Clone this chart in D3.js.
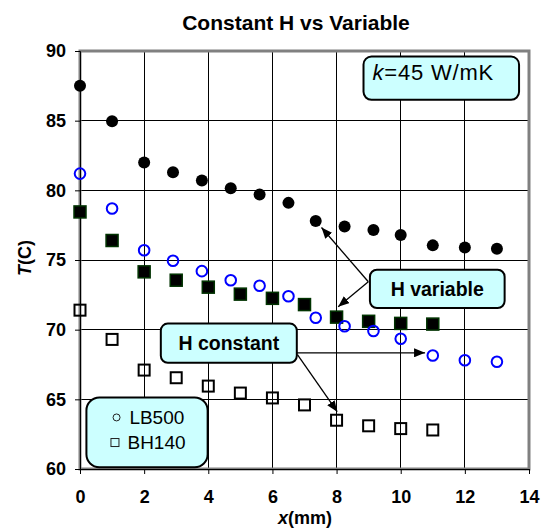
<!DOCTYPE html>
<html>
<head>
<meta charset="utf-8">
<script src="https://cdn.jsdelivr.net/npm/d3@7"></script>
<style>
body { margin: 0; background: #fff; }
text { font-family: Arial, "Liberation Sans", sans-serif; }
</style>
</head>
<body>
<div id="chart-area"></div>
<script>
// Data
const circleX = [0, 1, 2, 2.9, 3.8, 4.7, 5.6, 6.5, 7.35, 8.25, 9.15, 10, 11, 12, 13]
const squareX = [0, 1, 2, 3, 4, 5, 6, 7, 8, 9, 10, 11]
const lb500Variable = [87.5, 84.95, 82.0, 81.3, 80.7, 80.15, 79.7, 79.1, 77.8, 77.4, 77.15, 76.8, 76.05, 75.9, 75.8]
const lb500Constant = [81.2, 78.7, 75.7, 74.95, 74.2, 73.55, 73.15, 72.4, 70.85, 70.25, 69.9, 69.35, 68.15, 67.8, 67.7]
const bh140Variable = [78.45, 76.4, 74.15, 73.55, 73.05, 72.55, 72.25, 71.8, 70.9, 70.6, 70.45, 70.4]
const bh140Constant = [71.4, 69.3, 67.1, 66.55, 65.95, 65.45, 65.1, 64.6, 63.5, 63.1, 62.9, 62.8]
const xTicks = [0, 2, 4, 6, 8, 10, 12, 14]
const yTicks = [60, 65, 70, 75, 80, 85, 90]
const legendLabels = ["LB500", "BH140"]

const MARGIN = { LEFT: 80, RIGHT: 19, TOP: 51, BOTTOM: 61 }
const WIDTH = 548 - MARGIN.LEFT - MARGIN.RIGHT
const HEIGHT = 530 - MARGIN.TOP - MARGIN.BOTTOM

const svg = d3.select("#chart-area").append("svg")
    .attr("width", 548)
    .attr("height", 530)

const g = svg.append("g")
    .attr("transform", `translate(${MARGIN.LEFT}, ${MARGIN.TOP})`)

// Scales
const x = d3.scaleLinear()
    .range([0, WIDTH])
    .domain([0, 14])

const y = d3.scaleLinear()
    .range([HEIGHT, 0])
    .domain([60, 90])

// arrow head
svg.append("defs").append("marker")
    .attr("id", "head")
    .attr("markerUnits", "userSpaceOnUse")
    .attr("markerWidth", 11)
    .attr("markerHeight", 9)
    .attr("refX", 11)
    .attr("refY", 4.5)
    .attr("orient", "auto")
    .append("path")
    .attr("d", "M0,0 L11,4.5 L0,9 Z")
    .attr("fill", "black")

// Title
svg.append("text")
    .attr("x", 296)
    .attr("y", 30)
    .attr("text-anchor", "middle")
    .attr("font-size", "21px")
    .attr("font-weight", "bold")
    .text("Constant H vs Variable")

// Grid
g.selectAll(".xgrid")
    .data(xTicks.slice(1, -1))
    .enter().append("line")
    .attr("class", "xgrid")
    .attr("x1", d => x(d)).attr("x2", d => x(d))
    .attr("y1", 0).attr("y2", HEIGHT)
    .attr("stroke", "black")
    .attr("stroke-width", 1)
    .attr("shape-rendering", "crispEdges")

g.selectAll(".ygrid")
    .data(yTicks.slice(1, -1))
    .enter().append("line")
    .attr("class", "ygrid")
    .attr("x1", 0).attr("x2", WIDTH)
    .attr("y1", d => y(d)).attr("y2", d => y(d))
    .attr("stroke", "black")
    .attr("stroke-width", 1)
    .attr("shape-rendering", "crispEdges")

// Plot border
g.append("rect")
    .attr("x", 0).attr("y", 0)
    .attr("width", WIDTH).attr("height", HEIGHT)
    .attr("fill", "none")
    .attr("stroke", "#808080")
    .attr("stroke-width", 3)

// X Axis
const xAxisCall = d3.axisBottom(x)
    .tickValues(xTicks)
    .tickSize(5)
    .tickPadding(16)
const xAxis = g.append("g")
    .attr("class", "x axis")
    .attr("transform", `translate(0, ${HEIGHT})`)
    .call(xAxisCall)
xAxis.select(".domain").attr("stroke", "black")
xAxis.selectAll("text")
    .attr("font-size", "18px")
    .attr("font-weight", "bold")
    .attr("font-family", "Arial, 'Liberation Sans', sans-serif")
    .attr("fill", "black")

// Y Axis
const yAxisCall = d3.axisLeft(y)
    .tickValues(yTicks)
    .tickSize(5)
    .tickPadding(9)
const yAxis = g.append("g")
    .attr("class", "y axis")
    .call(yAxisCall)
yAxis.select(".domain").attr("stroke", "black")
yAxis.selectAll("text")
    .attr("font-size", "18px")
    .attr("font-weight", "bold")
    .attr("font-family", "Arial, 'Liberation Sans', sans-serif")
    .attr("fill", "black")

// Axis labels
const xLabel = svg.append("text")
    .attr("x", 305)
    .attr("y", 524)
    .attr("text-anchor", "middle")
    .attr("font-size", "18px")
    .attr("font-weight", "bold")
xLabel.append("tspan").attr("font-style", "italic").text("x")
xLabel.append("tspan").text("(mm)")

const yLabel = svg.append("text")
    .attr("transform", "translate(31, 258) rotate(-90)")
    .attr("text-anchor", "middle")
    .attr("font-size", "18px")
    .attr("font-weight", "bold")
yLabel.append("tspan").attr("font-style", "italic").text("T")
yLabel.append("tspan").text("(C)")

// Points
const circVar = circleX.map((d, i) => ({ x: d, y: lb500Variable[i] }))
const circCon = circleX.map((d, i) => ({ x: d, y: lb500Constant[i] }))
const sqVar = squareX.map((d, i) => ({ x: d, y: bh140Variable[i] }))
const sqCon = squareX.map((d, i) => ({ x: d, y: bh140Constant[i] }))

g.selectAll(".sqcon")
    .data(sqCon)
    .enter().append("rect")
    .attr("class", "sqcon")
    .attr("x", d => x(d.x) - 5.5)
    .attr("y", d => y(d.y) - 5.5)
    .attr("width", 11).attr("height", 11)
    .attr("fill", "none")
    .attr("stroke", "black")
    .attr("stroke-width", 2)

g.selectAll(".sqvar")
    .data(sqVar)
    .enter().append("rect")
    .attr("class", "sqvar")
    .attr("x", d => x(d.x) - 6)
    .attr("y", d => y(d.y) - 6)
    .attr("width", 12).attr("height", 12)
    .attr("fill", "black")
    .attr("stroke", "#003300")
    .attr("stroke-width", 1.5)

g.selectAll(".circcon")
    .data(circCon)
    .enter().append("circle")
    .attr("class", "circcon")
    .attr("cx", d => x(d.x))
    .attr("cy", d => y(d.y))
    .attr("r", 5.3)
    .attr("fill", "none")
    .attr("stroke", "#0000FF")
    .attr("stroke-width", 2)

g.selectAll(".circvar")
    .data(circVar)
    .enter().append("circle")
    .attr("class", "circvar")
    .attr("cx", d => x(d.x))
    .attr("cy", d => y(d.y))
    .attr("r", 6)
    .attr("fill", "black")

// Annotation boxes (in data units)
function box(x0, x1, y0, y1, r) {
    return g.append("rect")
        .attr("x", x(x0)).attr("y", y(y0))
        .attr("width", x(x1) - x(x0))
        .attr("height", y(y1) - y(y0))
        .attr("rx", r).attr("ry", r)
        .attr("fill", "#CCFFFF")
        .attr("stroke", "black")
        .attr("stroke-width", 2)
}

function arrow(x0, y0, x1, y1) {
    g.append("line")
        .attr("x1", x(x0)).attr("y1", y(y0))
        .attr("x2", x(x1)).attr("y2", y(y1))
        .attr("stroke", "black")
        .attr("stroke-width", 1.3)
        .attr("marker-end", "url(#head)")
}

// k box
box(8.84, 13.69, 89.6, 86.5, 8)
const kText = g.append("text")
    .attr("x", x(9.12))
    .attr("y", y(87.9))
    .attr("font-size", "22px")
    .attr("letter-spacing", "0.8px")
kText.append("tspan").attr("font-style", "italic").text("k")
kText.append("tspan").text("=45 W/mK")

// H variable
arrow(8.99, 73.44, 7.53, 77.33)
arrow(8.99, 73.44, 8.05, 71.65)
box(9.04, 13.24, 74.3, 71.55, 7)
g.append("text")
    .attr("x", x(11.14))
    .attr("y", y(72.92))
    .attr("dy", "0.35em")
    .attr("text-anchor", "middle")
    .attr("font-size", "19.5px")
    .attr("font-weight", "bold")
    .text("H variable")

// H constant
arrow(6.76, 68.34, 10.76, 68.34)
arrow(6.78, 68.2, 8.02, 64.11)
box(2.52, 6.76, 70.44, 67.62, 7)
g.append("text")
    .attr("x", x(4.64))
    .attr("y", y(69.03))
    .attr("dy", "0.35em")
    .attr("text-anchor", "middle")
    .attr("font-size", "19.5px")
    .attr("font-weight", "bold")
    .text("H constant")

// Legend
box(0.2, 3.98, 65.13, 60.12, 13)
g.append("circle")
    .attr("cx", x(1.14)).attr("cy", y(63.7))
    .attr("r", 3.5)
    .attr("fill", "none")
    .attr("stroke", "#222")
    .attr("stroke-width", 1)
g.append("rect")
    .attr("x", x(1.09) - 4).attr("y", y(61.9) - 4)
    .attr("width", 8).attr("height", 8)
    .attr("fill", "none")
    .attr("stroke", "#222")
    .attr("stroke-width", 1)
g.selectAll(".legtext")
    .data(legendLabels)
    .enter().append("text")
    .attr("class", "legtext")
    .attr("x", (d, i) => x(i === 0 ? 1.54 : 1.48))
    .attr("y", (d, i) => y(i === 0 ? 63.25 : 61.45))
    .attr("font-size", "19px")
    .text(d => d)
</script>
</body>
</html>
